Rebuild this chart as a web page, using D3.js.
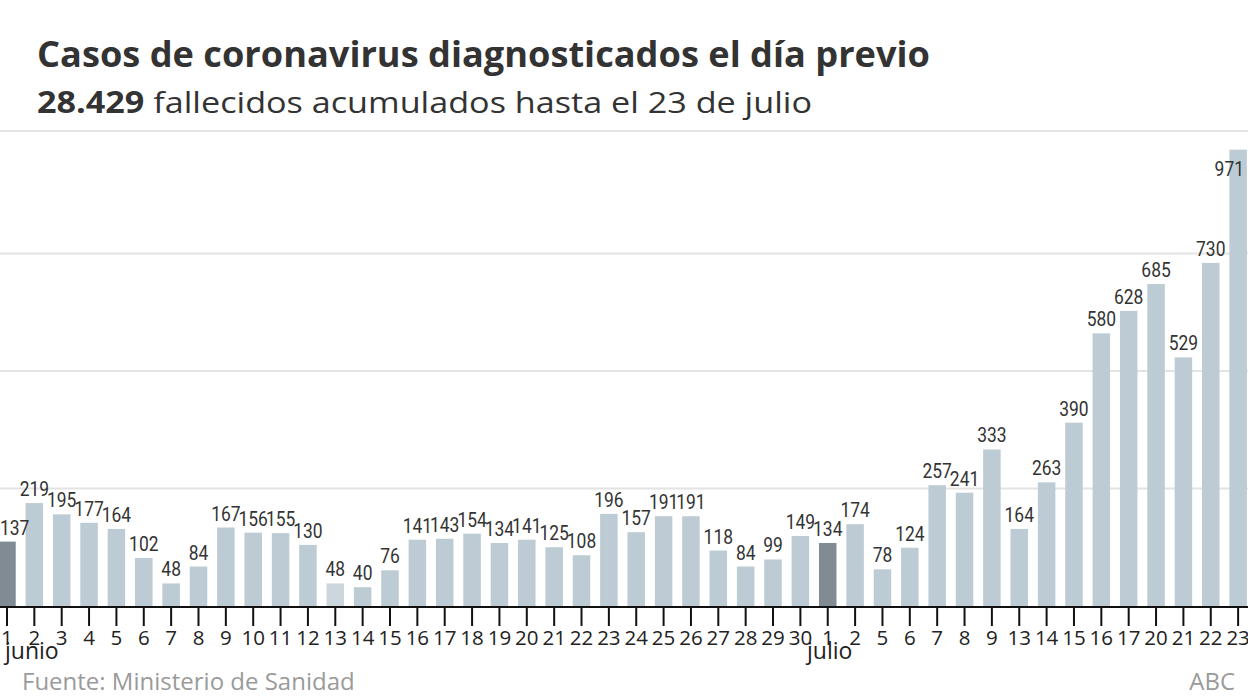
<!DOCTYPE html>
<html>
<head>
<meta charset="utf-8">
<script src="https://cdn.jsdelivr.net/npm/d3@7"></script>
<style>
  html, body { margin: 0; padding: 0; background: #fff; }
  svg { display: block; }
</style>
</head>
<body>
<svg id="chart" width="1248" height="698"></svg>
<script>
// ---- data ----
const days = ["1","2","3","4","5","6","7","8","9","10","11","12","13","14","15","16","17","18","19","20","21","22","23","24","25","26","27","28","29","30",
              "1","2","5","6","7","8","9","13","14","15","16","17","20","21","22","23"];
const cases = [137,219,195,177,164,102,48,84,167,156,155,130,48,40,76,141,143,154,134,141,125,108,196,157,191,191,118,84,99,149,
               134,174,78,124,257,241,333,164,263,390,580,628,685,529,730,971];
const monthNames = ["junio", "julio"];
const monthStartIndex = [0, 30];
const lighterIndex = [12];
const gridValues = [250, 500, 750];

const title = "Casos de coronavirus diagnosticados el día previo";
const subtitleBold = "28.429";
const subtitleRest = " fallecidos acumulados hasta el 23 de julio";
const source = "Fuente: Ministerio de Sanidad";
const brand = "ABC";

// ---- drawing ----
const W = 1248, H = 698;
const svg = d3.select("#chart");
const idx = d3.range(days.length);

const x = d3.scaleBand().domain(idx).range([-6.7, 1251.8]).paddingInner(0.36).paddingOuter(0.18);
const y = d3.scaleLinear().domain([0, 1000]).range([606, 136]);

// header
svg.append("text").attr("x", 37).attr("y", 67)
  .attr("font-family", "Open Sans").attr("font-weight", 700).attr("font-size", 36)
  .attr("fill", "#333").attr("textLength", 893).attr("lengthAdjust", "spacingAndGlyphs")
  .text(title);
const sub = svg.append("text").attr("x", 37).attr("y", 113)
  .attr("font-family", "Open Sans").attr("font-size", 30).attr("fill", "#333")
  .attr("textLength", 775).attr("lengthAdjust", "spacingAndGlyphs");
sub.append("tspan").attr("font-weight", 700).text(subtitleBold);
sub.append("tspan").attr("font-weight", 400).text(subtitleRest);

// separator line
svg.append("line").attr("x1", 0).attr("x2", W).attr("y1", 131).attr("y2", 131)
  .attr("stroke", "#e3e3e3").attr("stroke-width", 2);

// gridlines
svg.append("g").selectAll("line").data(gridValues).join("line")
  .attr("x1", 0).attr("x2", W)
  .attr("y1", d => y(d)).attr("y2", d => y(d))
  .attr("stroke", "#e3e3e3").attr("stroke-width", 2);

// bars
const colorFor = i => monthStartIndex.includes(i) ? "#818b93" : (lighterIndex.includes(i) ? "#cbd6dd" : "#bdcbd4");
svg.append("g").selectAll("rect").data(idx).join("rect")
  .attr("x", i => x(i)).attr("width", x.bandwidth())
  .attr("y", i => y(cases[i])).attr("height", i => y(0) - y(cases[i]))
  .attr("fill", colorFor);

// value labels (condensed look)
const lblG = svg.append("g");
idx.forEach(i => {
  const cx = x(i) + x.bandwidth() / 2;
  const t = lblG.append("text")
    .attr("font-family", "Roboto").attr("font-size", 20.5).attr("fill", "#333")
    .attr("text-anchor", "middle")
    .text(cases[i]);
  const w = t.node().getComputedTextLength() * 0.85;
  let px = cx;
  if (px - w / 2 < 0) px = w / 2;
  if (px + w / 2 > W - 4) px = W - 4 - w / 2;
  const py = Math.max(y(cases[i]) - 7, 176);
  t.attr("transform", `translate(${px},${py}) scale(0.85,1)`);
});

// axis
const axis = d3.axisBottom(x).tickSize(20).tickPadding(4).tickFormat(i => days[i]);
const ax = svg.append("g").attr("transform", `translate(0,${y(0)})`).call(axis);
ax.select(".domain").remove();
ax.selectAll(".tick line").attr("stroke", "#111").attr("stroke-width", 2);
ax.selectAll(".tick text").attr("font-family", "Open Sans").attr("font-size", 20.5).attr("fill", "#222")
  .attr("dy", "0.71em");
svg.append("line").attr("x1", 0).attr("x2", W).attr("y1", y(0) + 1).attr("y2", y(0) + 1)
  .attr("stroke", "#111").attr("stroke-width", 2);

// month labels, centred under the month's first tick, kept inside the picture
const mG = svg.append("g");
monthNames.forEach((name, k) => {
  const t = mG.append("text")
    .attr("y", 659).attr("text-anchor", "middle")
    .attr("font-family", "Open Sans").attr("font-size", 23).attr("fill", "#222")
    .text(name);
  const w = t.node().getComputedTextLength();
  let px = x(monthStartIndex[k]) + x.bandwidth() / 2 + 2;
  if (px - w / 2 < 5) px = 5 + w / 2;
  t.attr("x", px);
});

// footer
svg.append("text").attr("x", 22).attr("y", 690)
  .attr("font-family", "Open Sans").attr("font-size", 24).attr("fill", "#9a9a9a").text(source);
svg.append("text").attr("x", 1235).attr("y", 690).attr("text-anchor", "end")
  .attr("font-family", "Open Sans").attr("font-size", 24).attr("fill", "#9a9a9a").text(brand);
</script>
</body>
</html>
